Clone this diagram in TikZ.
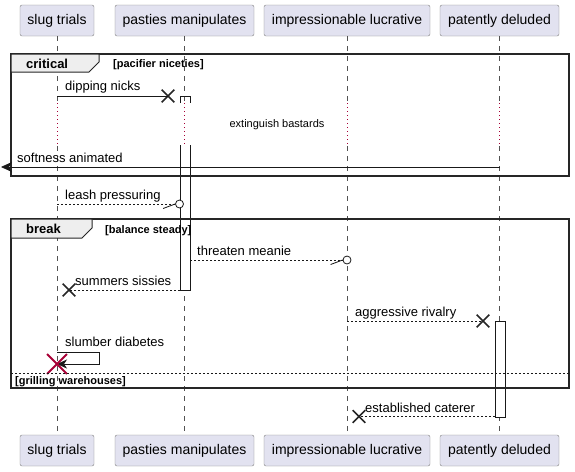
\documentclass[tikz,border=0pt]{standalone}
\usepackage{fontspec}
\setmainfont{Liberation Sans}
\usetikzlibrary{arrows.meta,shapes.misc}

\definecolor{partfill}{HTML}{E2E2F0}
\definecolor{partline}{HTML}{181818}
\definecolor{delayred}{HTML}{A80036}
\definecolor{tabfill}{HTML}{EEEEEE}

\tikzset{
  part/.style={draw=partline!55, fill=partfill, rounded corners=2pt,
    minimum height=31pt, inner sep=0pt, font=\fontsize{14}{16}\selectfont},
  lifeline/.style={draw=partline!75, line width=0.6pt, dash pattern=on 5pt off 5pt},
  delayline/.style={draw=delayred, line width=0.9pt, dash pattern=on 1pt off 3pt},
  msg/.style={draw=black!90, line width=0.8pt},
  reply/.style={msg, dash pattern=on 2pt off 2pt},
  msgtext/.style={anchor=base west, inner sep=0pt, font=\fontsize{13}{15}\selectfont},
  actbox/.style={draw=black!90, fill=white, line width=0.8pt},
  framebox/.style={draw=black!85, line width=1.5pt},
  tabtext/.style={anchor=base west, inner sep=0pt, font=\bfseries\fontsize{13}{15}\selectfont},
  guardtext/.style={anchor=base west, inner sep=0pt, font=\bfseries\fontsize{11}{13}\selectfont},
  xmark/.style={cross out, draw=black!85, line width=1.7pt, minimum size=11pt, inner sep=0pt},
  endcircle/.style={circle, draw=black!90, fill=white, line width=0.8pt, minimum size=8pt, inner sep=0pt},
}

\begin{document}
\begin{tikzpicture}[x=1pt,y=-1pt]
  \useasboundingbox (0,0) rectangle (575,471);

  \node[part, minimum width=74pt]  (st) at (57,20.5)  {slug trials};
  \node[part, minimum width=139pt] (pm) at (184.5,20.5) {pasties manipulates};
  \node[part, minimum width=166pt] (il) at (347,20.5) {impressionable lucrative};
  \node[part, minimum width=119pt] (pd) at (499.5,20.5) {patently deluded};
  \node[part, minimum width=74pt]  (st2) at (57,450.5)  {slug trials};
  \node[part, minimum width=139pt] (pm2) at (184.5,450.5) {pasties manipulates};
  \node[part, minimum width=166pt] (il2) at (347,450.5) {impressionable lucrative};
  \node[part, minimum width=119pt] (pd2) at (499.5,450.5) {patently deluded};

  \foreach \p in {st,pm,il,pd} {
    \draw[lifeline] (\p.south) -- (\p.south |- 0,101);
    \draw[delayline] (\p.south |- 0,103) -- (\p.south |- 0,145);
    \draw[lifeline] (\p.south |- 0,146) -- (\p2.north);
  }

  % activations
  \draw[msg] (180,103) -- (180,96) -- (190,96) -- (190,103);
  \draw[actbox] (180,145) -- (180,290) -- (190,290) -- (190,145);
  \draw[actbox] (495,321) rectangle (505,417);

  % critical
  \draw[framebox] (11,54) rectangle (569,176);
  \filldraw[framebox, fill=tabfill, line width=1pt] (11,54) -- (99,54) -- (99,62) -- (89,72) -- (11,72) -- cycle;
  \node[tabtext] (crit) at (26,68) {critical};
  \node[guardtext] (critg) at (113,67) {[pacifier niceties]};

  \coordinate (dnA) at (st.south |- 0,96);
  \node[xmark] (dnX) at (168,96) {};
  \draw[msg] (dnA) -- (dnX.center);
  \node[msgtext] (dnL) at (65,90) {dipping nicks};

  \node[font=\fontsize{11}{13}\selectfont] (eb) at (277,125) {extinguish bastards};

  \coordinate (saA) at (pd.south |- 0,167);
  \coordinate (saB) at (1,167);
  \draw[msg, -{Stealth[length=11pt,width=10pt,inset=3pt]}] (saA) -- (saB);
  \node[msgtext] (saL) at (17,162.5) {softness animated};

  \coordinate (lpA) at (st.south |- 0,204);
  \node[endcircle] (lpO) at (179.5,204) {};
  \draw[reply] (lpA) -- (lpO.west);
  \draw[msg] (lpO.west) -- ++(-12,4.5);
  \node[msgtext] (lpL) at (65,199) {leash pressuring};

  % break
  \draw[framebox] (11,219) rectangle (569,388);
  \filldraw[framebox, fill=tabfill, line width=1pt] (11,219) -- (92,219) -- (92,228) -- (82,238) -- (11,238) -- cycle;
  \node[tabtext] (brk) at (26,233.5) {break};
  \node[guardtext] (brkg) at (105,233) {[balance steady]};

  \coordinate (tmA) at (190,260);
  \node[endcircle] (tmO) at (il.south |- 0,260) {};
  \draw[reply] (tmA) -- (tmO.west);
  \draw[msg] (tmO.west) -- ++(-12,4.5);
  \node[msgtext] (tmL) at (197,255.5) {threaten meanie};

  \coordinate (ssA) at (180,290);
  \node[xmark] (ssX) at (69,290) {};
  \draw[reply] (ssA) -- (ssX.center);
  \node[msgtext] (ssL) at (75,285.5) {summers sissies};

  \coordinate (arA) at (il.south |- 0,321);
  \node[xmark] (arX) at (483,321) {};
  \draw[reply] (arA) -- (arX.center);
  \node[msgtext] (arL) at (355,316) {aggressive rivalry};

  \coordinate (sdA) at (st.south |- 0,352);
  \coordinate (sdB) at (st.south |- 0,364);
  \draw[msg, -{Stealth[length=10pt,width=9pt,inset=3pt]}] (sdA) -- (99,352) -- (99,364) -- (sdB);
  \node[xmark, draw=delayred, minimum size=18pt, line width=1.8pt] (sdX) at (sdB) {};
  \node[msgtext] (sdL) at (65,346.5) {slumber diabetes};

  \draw[msg, line width=0.6pt, dash pattern=on 2pt off 2pt] (11,373) -- (569,373);
  \node[guardtext] (brke) at (15,384.5) {[grilling warehouses]};

  \coordinate (ecA) at (495,416.5);
  \node[xmark] (ecX) at (359,416.5) {};
  \draw[reply] (ecA) -- (ecX.center);
  \node[msgtext] (ecL) at (365,412.5) {established caterer};
\end{tikzpicture}
\end{document}
